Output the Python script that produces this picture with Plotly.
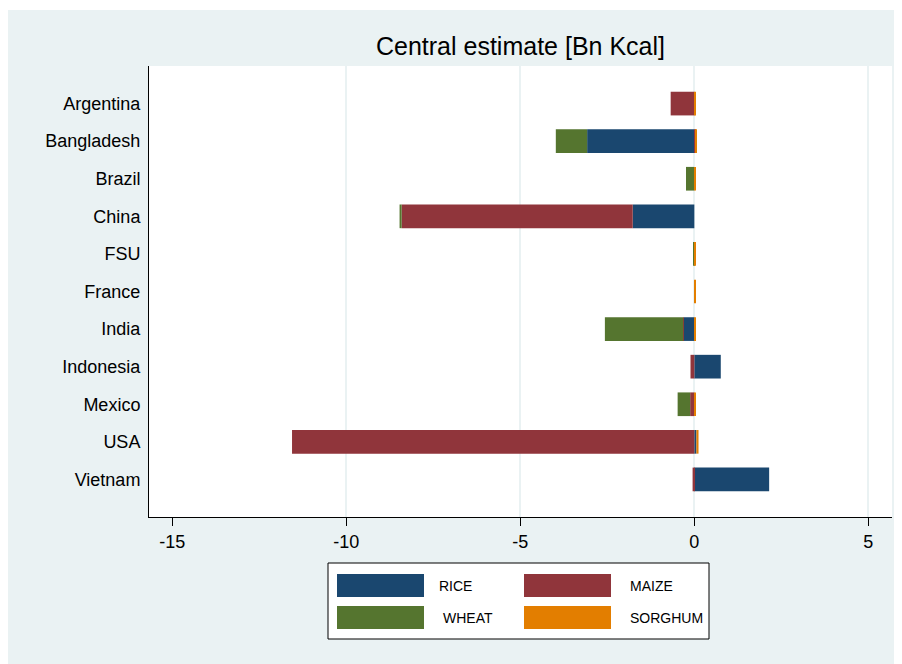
import plotly.graph_objects as go

countries = ["Argentina", "Bangladesh", "Brazil", "China", "FSU", "France",
             "India", "Indonesia", "Mexico", "USA", "Vietnam"]
rice = [0.0, -3.08, 0.0, -1.77, 0.0, 0.0, -0.30, 0.76, 0.0, 0.06, 2.15]
maize = [-0.68, 0.03, 0.0, -6.64, 0.0, 0.0, -0.02, -0.11, -0.12, -11.56, -0.05]
wheat = [0.0, -0.90, -0.24, -0.06, -0.02, 0.0, -2.25, 0.0, -0.36, 0.0, 0.0]
sorghum = [0.04, 0.03, 0.04, 0.0, 0.03, 0.03, 0.04, 0.0, 0.04, 0.06, 0.0]

series_names = ["RICE", "MAIZE", "WHEAT", "SORGHUM"]
series_values = [rice, maize, wheat, sorghum]
series_colors = ["#1A476F", "#90353B", "#55752F", "#E37E00"]

x_ticks = [-15, -10, -5, 0, 5]
x_grid = [-10, -5, 0, 5]
title_text = "Central estimate [Bn Kcal]"

OFF = 8  # page body margin
W, H = 902 - OFF, 664 - OFF
# plot-area edges in screenshot pixels
SL, SR, ST, SB = 149, 892, 66, 517
L, R, T, B = SL - OFF, SR - OFF, ST - OFF, SB - OFF
FONT = "Liberation Sans, Arial, sans-serif"


def px2x(px):
    return (px - OFF - L) / (R - L)


def py2y(py):
    return (B - (py - OFF)) / (B - T)


fig = go.Figure()
for name, vals, col in zip(series_names, series_values, series_colors):
    fig.add_trace(go.Bar(
        y=countries, x=vals, name=name, orientation="h",
        marker=dict(color=col, line=dict(width=0)),
        width=0.63, showlegend=False,
    ))

shapes = [
    # thin white strip at the very top
    dict(type="rect", xref="paper", yref="paper", x0=-1, x1=2, y0=py2y(10), y1=3,
         fillcolor="white", line=dict(width=0), layer="below"),
    # legend box
    dict(type="rect", xref="paper", yref="paper", x0=px2x(328), x1=px2x(709),
         y0=py2y(639), y1=py2y(563), fillcolor="white",
         line=dict(color="black", width=1)),
]
annotations = []
sw_x = [337, 524, 337, 524]
sw_y = [574, 574, 606, 606]
tx_x = [437, 628, 441, 628]
for i, name in enumerate(series_names):
    shapes.append(dict(type="rect", xref="paper", yref="paper",
                       x0=px2x(sw_x[i]), x1=px2x(sw_x[i] + 87),
                       y0=py2y(sw_y[i] + 23), y1=py2y(sw_y[i]),
                       fillcolor=series_colors[i], line=dict(width=0)))
    annotations.append(dict(xref="paper", yref="paper", x=px2x(tx_x[i]),
                            y=py2y(sw_y[i] + 12), text=name, showarrow=False,
                            xanchor="left", yanchor="middle",
                            font=dict(family=FONT, size=14, color="black")))

fig.update_layout(
    width=W, height=H,
    margin=dict(l=L, r=W - R, t=T, b=H - B, pad=0),
    barmode="relative",
    paper_bgcolor="#EAF2F3",
    plot_bgcolor="white",
    font=dict(family=FONT, color="black"),
    title=dict(text=title_text, x=0.5, xref="paper", xanchor="center",
               y=1 - (46 - OFF) / H, yref="container", yanchor="middle",
               font=dict(family=FONT, size=25, color="black")),
    xaxis=dict(range=[-15.67, 5.68], tickvals=x_ticks, ticktext=[str(v) for v in x_ticks],
               showgrid=False, zeroline=False, showline=True, linecolor="black",
               linewidth=1, ticks="outside", ticklen=8, tickcolor="black",
               tickfont=dict(size=18, family=FONT, color="black"),
               minor=dict(tickvals=x_grid, showgrid=True, gridcolor="#EAF2F3",
                          gridwidth=2, ticks=""),
               fixedrange=True),
    yaxis=dict(categoryorder="array", categoryarray=countries, range=[11, -1],
               showgrid=False, zeroline=False, showline=True, linecolor="black",
               linewidth=1, ticks="", ticklabelstandoff=4,
               tickfont=dict(size=18, family=FONT, color="black")),
    shapes=shapes,
    annotations=annotations,
)

fig.write_html("out.html")
